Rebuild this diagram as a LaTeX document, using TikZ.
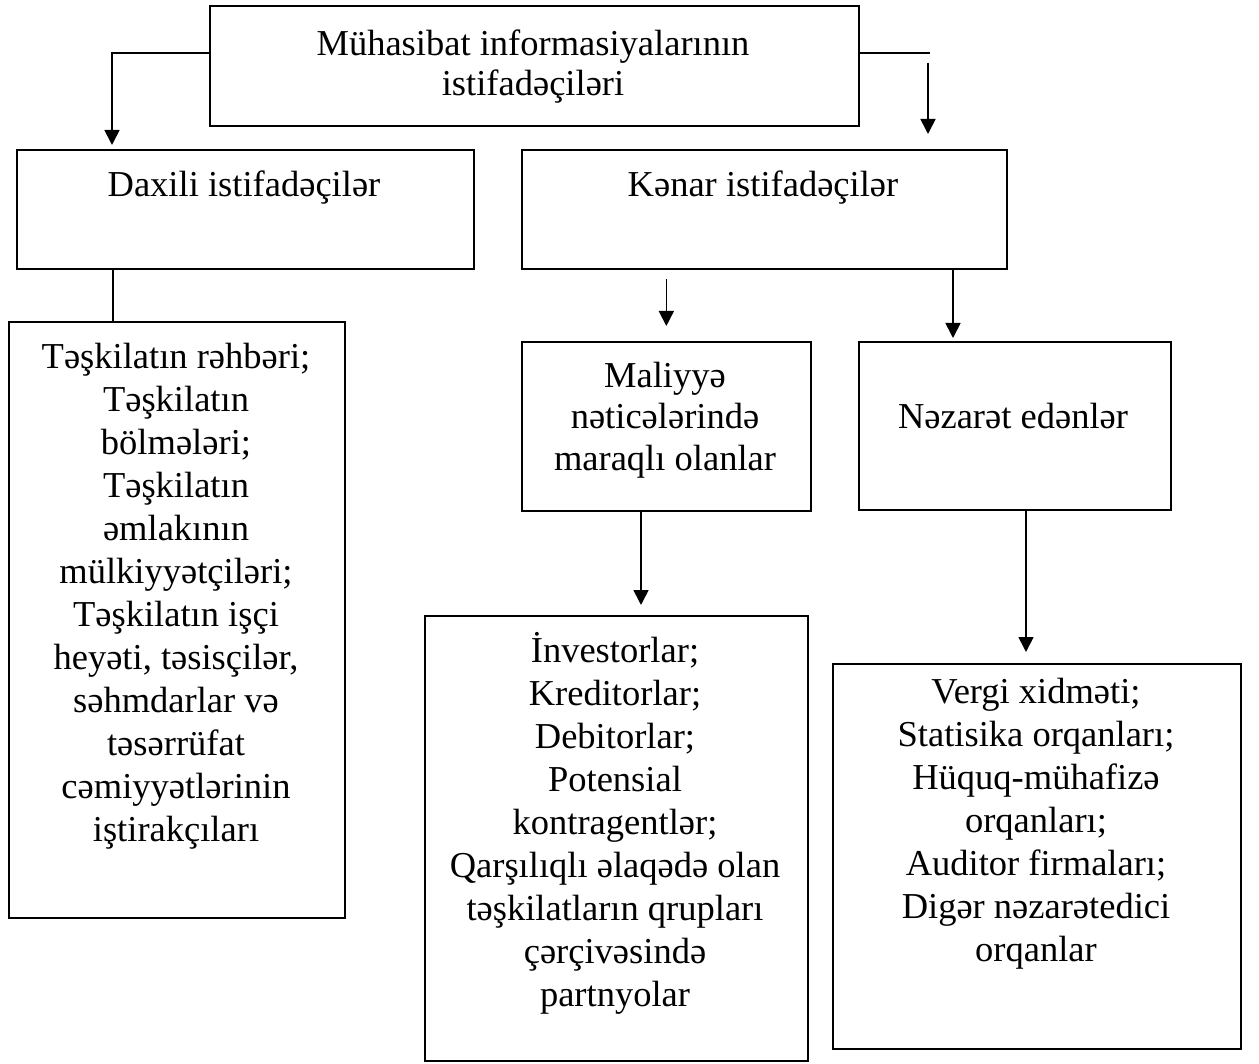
\documentclass[tikz,border=0pt]{standalone}
\usepackage{fontspec}
\setmainfont{Liberation Serif}
\usetikzlibrary{arrows.meta}
\begin{document}
\begin{tikzpicture}[x=1pt,y=-1pt,
  box/.style={draw=black, line width=1.7pt, rectangle, inner sep=0pt, anchor=north west},
  txt/.style={anchor=north, align=center, inner sep=0pt, font=\fontsize{36.5}{43}\selectfont},
  conn/.style={line width=1.7pt},
  arr/.style={line width=1.7pt, -{Triangle[width=15pt,length=15pt]}}]
\useasboundingbox (0,0) rectangle (1259,1064);
% boxes
\node[box, minimum width=649pt, minimum height=120pt] (top) at (209,5) {};
\node[box, minimum width=457pt, minimum height=119pt] (dax) at (16,149) {};
\node[box, minimum width=485pt, minimum height=119pt] (ken) at (521,149) {};
\node[box, minimum width=336pt, minimum height=596pt] (lst1) at (8,321) {};
\node[box, minimum width=289pt, minimum height=169pt] (mal) at (521,341) {};
\node[box, minimum width=312pt, minimum height=168pt] (nez) at (858,341) {};
\node[box, minimum width=383pt, minimum height=445pt] (lst2) at (424,615) {};
\node[box, minimum width=408pt, minimum height=385pt] (lst3) at (832,663) {};
% texts
\node[txt, font=\fontsize{36.5}{40}\selectfont] (topT) at (533,27) {\strut Mühasibat informasiyalarının\\istifadəçiləri};
\node[txt] (daxT) at (244,166) {\strut Daxili istifadəçilər};
\node[txt] (kenT) at (763,166) {\strut Kənar istifadəçilər};
\node[txt, font=\fontsize{36.5}{41.5}\selectfont] (malT) at (665,358) {\strut Maliyyə\\nəticələrində\\maraqlı olanlar};
\node[txt] (nezT) at (1013,398) {\strut Nəzarət edənlər};
\node[txt] (lst1T) at (176,338) {\strut Təşkilatın rəhbəri;\\Təşkilatın\\bölmələri;\\Təşkilatın\\əmlakının\\mülkiyyətçiləri;\\Təşkilatın işçi\\heyəti, təsisçilər,\\səhmdarlar və\\təsərrüfat\\cəmiyyətlərinin\\iştirakçıları};
\node[txt] (lst2T) at (615,632) {\strut İnvestorlar;\\Kreditorlar;\\Debitorlar;\\Potensial\\kontragentlər;\\Qarşılıqlı əlaqədə olan\\təşkilatların qrupları\\çərçivəsində\\partnyolar};
\node[txt] (lst3T) at (1036,673) {\strut Vergi xidməti;\\Statisika orqanları;\\Hüquq-mühafizə\\orqanları;\\Auditor firmaları;\\Digər nəzarətedici\\orqanlar};
% connector coordinates
\coordinate (tlc) at (112,53);
\coordinate (trc) at (930,53);
\coordinate (tra) at (928,63);
\coordinate (dxl) at (113,0);
\coordinate (a2) at (953,0);
\coordinate (a3) at (641,0);
\coordinate (a4) at (1026,0);
% connectors
\draw[arr, shorten >=4pt] (tlc -| top.west) -- (tlc) -- (tlc |- dax.north);
\draw[conn] (trc -| top.east) -- (trc);
\draw[arr, shorten >=15pt] (tra) -- (tra |- ken.north);
\draw[conn] (dxl |- dax.south) -- (dxl |- lst1.north);
\draw[arr] ([yshift=62pt]mal.north) -- ([yshift=15pt]mal.north);
\draw[arr, shorten >=3pt] (a2 |- ken.south) -- (a2 |- nez.north);
\draw[arr, shorten >=10pt] (a3 |- mal.south) -- (a3 |- lst2.north);
\draw[arr, shorten >=11pt] (a4 |- nez.south) -- (a4 |- lst3.north);
\end{tikzpicture}
\end{document}
